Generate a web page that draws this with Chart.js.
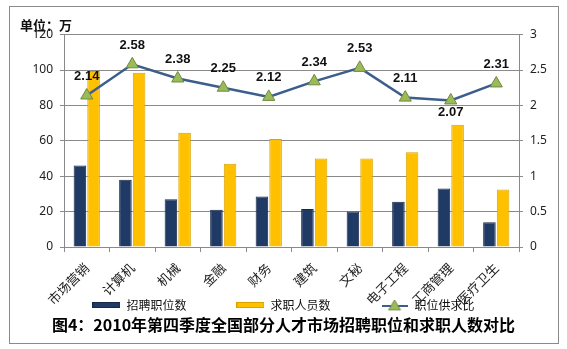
<!DOCTYPE html>
<html>
<head>
<meta charset="utf-8">
<script src="https://cdn.jsdelivr.net/npm/chart.js@4/dist/chart.umd.min.js"></script>
<style>
  html, body { margin: 0; padding: 0; background: #fff; }
  #wrap { width: 567px; height: 349px; position: relative; }
</style>
</head>
<body>
<div id="wrap"><canvas id="jobChart"></canvas></div>
<script>
const categories = ["市场营销", "计算机", "机械", "金融", "财务", "建筑", "文秘", "电子工程", "工商管理", "医疗卫生"];
const jobsOffered = [46, 38, 27, 21, 28.5, 21.5, 20, 25.5, 33, 14];
const jobSeekers = [99.5, 98.5, 64.5, 47, 61, 50, 50, 53.5, 69, 32.5];
const supplyRatio = [2.14, 2.58, 2.38, 2.25, 2.12, 2.34, 2.53, 2.11, 2.07, 2.31];
const seriesNames = ["招聘职位数", "求职人员数", "职位供求比"];

const BLUE = "#1f3a64";
const YELLOW = "#ffc000";
const LINE = "#3b5e8c";
const TRI = "#9bbb59";

// little legend icons (bar swatches + line with triangle)
function swatch(fill, stroke) {
  const c = document.createElement("canvas");
  c.width = 28; c.height = 6;
  const g = c.getContext("2d");
  g.fillStyle = fill;
  g.fillRect(0, 0, 28, 6);
  g.strokeStyle = stroke;
  g.strokeRect(0.5, 0.5, 27, 5);
  return c;
}
function lineIcon() {
  const c = document.createElement("canvas");
  c.width = 26; c.height = 12;
  const g = c.getContext("2d");
  g.strokeStyle = LINE;
  g.lineWidth = 2;
  g.beginPath(); g.moveTo(0, 7); g.lineTo(26, 7); g.stroke();
  g.fillStyle = TRI;
  g.strokeStyle = "#71893f";
  g.lineWidth = 1;
  g.beginPath(); g.moveTo(13, 1); g.lineTo(19, 11); g.lineTo(7, 11); g.closePath();
  g.fill(); g.stroke();
  return c;
}
const legendIcons = [swatch(BLUE, "#16294a"), swatch(YELLOW, "#d9a300"), lineIcon()];

const ratioLabels = {
  id: "ratioLabels",
  afterDatasetsDraw(chart) {
    const meta = chart.getDatasetMeta(2);
    const ctx = chart.ctx;
    ctx.save();
    ctx.font = "bold 13px 'Liberation Sans', Arial, sans-serif";
    ctx.fillStyle = "#111";
    ctx.textAlign = "center";
    ctx.textBaseline = "middle";
    meta.data.forEach((pt, i) => {
      const below = supplyRatio[i] === Math.min(...supplyRatio);
      ctx.fillText(supplyRatio[i].toFixed(2), pt.x, below ? pt.y + 12 : pt.y - 19);
    });
    ctx.restore();
  },
};

const frame = {
  id: "frame",
  // the x axis is laid out thin so the legend sits right under it;
  // give its labels room again so they aren't clipped
  afterLayout(chart) {
    const x = chart.scales.x;
    x.bottom = x.top + 70;
  },
  beforeDraw(chart) {
    const ctx = chart.ctx;
    ctx.save();
    ctx.fillStyle = "white";
    ctx.fillRect(0, 0, chart.width, chart.height);
    ctx.restore();
  },
  afterDraw(chart) {
    const ctx = chart.ctx;
    ctx.save();
    ctx.strokeStyle = "#8a8a8a";
    ctx.lineWidth = 1;
    ctx.strokeRect(9.5, 6.5, 549, 337);
    ctx.restore();
  },
};

const config = {
  type: "bar",
  data: {
    labels: categories,
    datasets: [
      {
        label: seriesNames[0],
        data: jobsOffered,
        backgroundColor: BLUE,
        borderColor: "#16294a",
        borderWidth: 1,
        yAxisID: "y",
        order: 1,
      },
      {
        label: seriesNames[1],
        data: jobSeekers,
        backgroundColor: YELLOW,
        borderColor: "#d9a300",
        borderWidth: 1,
        yAxisID: "y",
        order: 1,
      },
      {
        type: "line",
        label: seriesNames[2],
        data: supplyRatio,
        borderColor: LINE,
        borderWidth: 2.5,
        pointStyle: "triangle",
        pointRadius: 7,
        pointBackgroundColor: TRI,
        pointBorderColor: "#71893f",
        pointBorderWidth: 1,
        tension: 0,
        yAxisID: "y1",
        order: 0,
      },
    ],
  },
  plugins: [frame, ratioLabels],
  options: {
    responsive: true,
    maintainAspectRatio: false,
    animation: false,
    layout: { padding: { top: 17, left: 20, right: 20, bottom: 9 } },
    datasets: {
      bar: { categoryPercentage: 0.6, barPercentage: 0.92 },
    },
    scales: {
      x: {
        grid: { drawOnChartArea: false, drawTicks: true, tickLength: 5, color: "#8a8a8a", offset: true },
        border: { color: "#8a8a8a" },
        ticks: {
          minRotation: 45,
          maxRotation: 45,
          autoSkip: false,
          padding: 8,
          color: "#222",
          font: { family: "'Noto Sans CJK SC', sans-serif", size: 13 },
        },
        afterFit: (scale) => { scale.height = 2; },
      },
      y: {
        position: "left",
        min: 0,
        max: 120,
        ticks: {
          stepSize: 20,
          padding: 7,
          color: "#222",
          font: { family: "'Noto Sans', sans-serif", size: 12 },
        },
        grid: { color: "#8a8a8a", tickLength: 4 },
        border: { color: "#8a8a8a" },
        afterFit: (scale) => { scale.width = 44; },
      },
      y1: {
        position: "right",
        min: 0,
        max: 3,
        ticks: {
          stepSize: 0.5,
          padding: 7,
          color: "#222",
          font: { family: "'Noto Sans', sans-serif", size: 12 },
          callback: (v) => String(v),
        },
        grid: { drawOnChartArea: false, color: "#8a8a8a", tickLength: 4 },
        border: { color: "#8a8a8a" },
        afterFit: (scale) => { scale.width = 28; },
      },
    },
    plugins: {
      tooltip: { enabled: false },
      subtitle: {
        display: true,
        position: "top",
        align: "start",
        text: "单位：万",
        color: "#111",
        font: { family: "'Noto Sans CJK SC', sans-serif", size: 13, weight: "bold" },
        padding: { top: 0, bottom: 2 },
      },
      title: {
        display: true,
        position: "bottom",
        text: "图4：2010年第四季度全国部分人才市场招聘职位和求职人数对比",
        color: "#000",
        font: { family: "'Noto Sans CJK SC', sans-serif", size: 16, weight: "bold" },
        padding: { top: 5, bottom: 5 },
      },
      legend: {
        position: "bottom",
        maxHeight: 61.8,
        labels: {
          usePointStyle: true,
          pointStyleWidth: 28,
          padding: 50,
          color: "#111",
          font: { family: "'Noto Sans CJK SC', sans-serif", size: 12 },
          generateLabels: (chart) =>
            chart.data.datasets.map((ds, i) => ({
              text: ds.label,
              datasetIndex: i,
              pointStyle: legendIcons[i],
              fillStyle: "transparent",
              strokeStyle: "transparent",
              lineWidth: 0,
              fontColor: "#111",
              hidden: false,
            })),
        },
      },
    },
  },
};

new Chart(document.getElementById("jobChart"), config);
</script>
</body>
</html>
